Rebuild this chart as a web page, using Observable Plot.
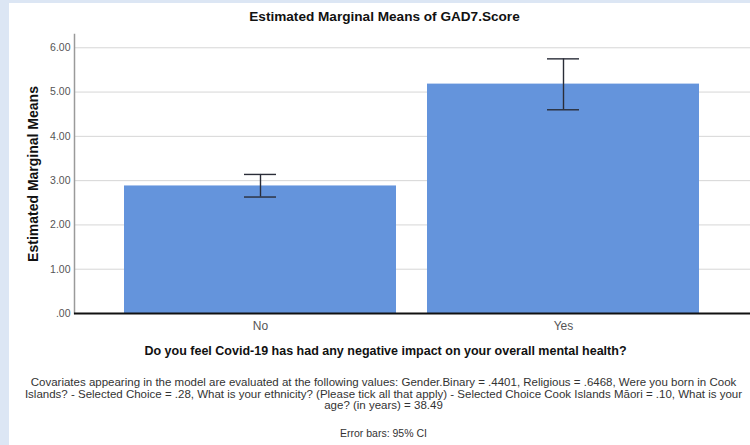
<!DOCTYPE html>
<html>
<head>
<meta charset="utf-8">
<script src="https://cdn.jsdelivr.net/npm/d3@7"></script>
<script src="https://cdn.jsdelivr.net/npm/@observablehq/plot@0.6"></script>
<style>
  html, body { margin: 0; padding: 0; }
  body { font-family: "Liberation Sans", Arial, sans-serif; }
  #page { position: relative; width: 750px; height: 445px; background: #dce6f4; overflow: hidden; }
  #panel { position: absolute; left: 9px; top: 3px; right: 0; bottom: 0; background: #ffffff; }
  #chart { position: absolute; left: 0; top: 0; }
  #title { position: absolute; left: 0; width: 769px; top: 9px; text-align: center; font-weight: bold; font-size: 13.6px; color: #111; }
  #note { position: absolute; left: 0; width: 767px; top: 377px; text-align: center; font-size: 11.5px; line-height: 11.5px; color: #333; white-space: nowrap; }
  #errnote { position: absolute; left: 0; width: 767px; top: 427px; text-align: center; font-size: 10.5px; color: #333; }
</style>
</head>
<body>
<div id="page">
  <div id="panel"></div>
  <div id="title"></div>
  <div id="chart"></div>
  <div id="note"></div>
  <div id="errnote"></div>
</div>
<script>
const chartTitle = "Estimated Marginal Means of GAD7.Score";
const xTitle = "Do you feel Covid-19 has had any negative impact on your overall mental health?";
const yTitle = "Estimated Marginal Means";
const categories = ["No", "Yes"];
const means = [2.88, 5.18];
const lower = [2.63, 4.60];
const upper = [3.14, 5.75];
const yTicks = [0, 1, 2, 3, 4, 5, 6];
const noteLines = [
  "Covariates appearing in the model are evaluated at the following values: Gender.Binary = .4401, Religious = .6468, Were you born in Cook",
  "Islands? - Selected Choice = .28, What is your ethnicity? (Please tick all that apply) - Selected Choice Cook Islands Māori = .10, What is your",
  "age? (in years) = 38.49"
];
const errNote = "Error bars: 95% CI";

const data = categories.map((c, i) => ({cat: c, mean: means[i], lo: lower[i], hi: upper[i]}));

document.getElementById("title").textContent = chartTitle;
document.getElementById("note").innerHTML = noteLines.map(s => s.replace(/&/g,"&amp;").replace(/</g,"&lt;")).join("<br>");
document.getElementById("errnote").textContent = errNote;

const fmt = d => d === 0 ? ".00" : d.toFixed(2);

const chart = Plot.plot({
  width: 750,
  height: 365,
  marginLeft: 74,
  marginRight: 0,
  marginTop: 34,
  marginBottom: 52,
  style: {background: "transparent", fontFamily: "Liberation Sans, Arial, sans-serif"},
  x: {domain: categories, paddingInner: 0.102, paddingOuter: 0.164},
  y: {domain: [0, 6.3]},
  marks: [
    Plot.gridY(yTicks, {stroke: "#d6d6d6", strokeOpacity: 1, strokeWidth: 1}),
    Plot.frame({anchor: "left", stroke: "#9a9a9a", strokeWidth: 1.5}),
    Plot.barY(data, {x: "cat", y: "mean", fill: "#6494dc"}),
    Plot.ruleX(data, {x: "cat", y1: "lo", y2: "hi", stroke: "#2a2d38", strokeWidth: 1.4}),
    Plot.tickY(data, {x: "cat", y: "lo", stroke: "#2a2d38", strokeWidth: 1.4, insetLeft: 120, insetRight: 120}),
    Plot.tickY(data, {x: "cat", y: "hi", stroke: "#2a2d38", strokeWidth: 1.4, insetLeft: 120, insetRight: 120}),
    Plot.ruleY([0], {stroke: "#111", strokeWidth: 2}),
    Plot.axisY(yTicks, {tickSize: 0, tickPadding: 4, fontSize: 10.5, tickFormat: fmt, label: null, color: "#555"}),
    Plot.axisX({tickSize: 0, tickPadding: 8, fontSize: 12, label: null, color: "#555"}),
    Plot.text([yTitle], {frameAnchor: "left", textAnchor: "middle", rotate: -90, dx: -41, fontSize: 14, fontWeight: "bold", fill: "#111"}),
    Plot.text([xTitle], {frameAnchor: "bottom", dx: -27, dy: 41, fontSize: 12.5, fontWeight: "bold", fill: "#111"})
  ]
});
document.getElementById("chart").appendChild(chart);
</script>
</body>
</html>
